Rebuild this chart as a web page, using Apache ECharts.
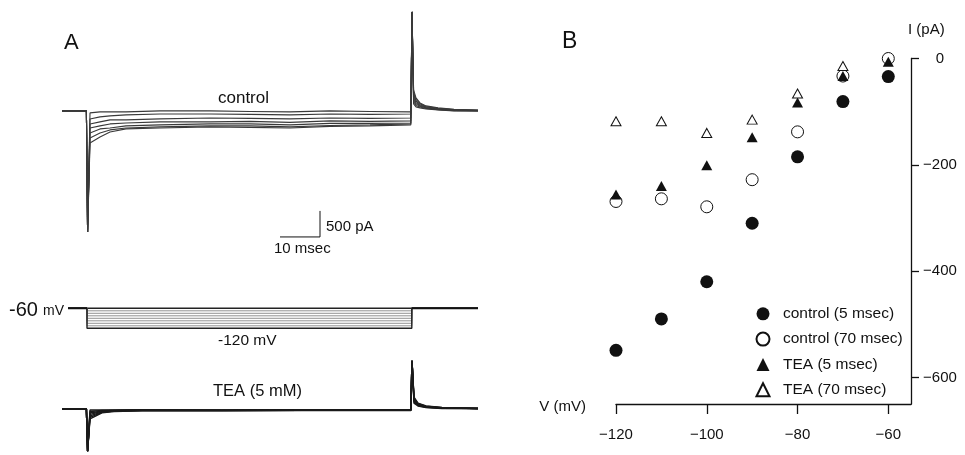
<!DOCTYPE html>
<html>
<head>
<meta charset="utf-8">
<script src="https://cdn.jsdelivr.net/npm/echarts@6/dist/echarts.min.js"></script>
<style>
html, body { margin: 0; padding: 0; background: #fff; }
#chart { width: 965px; height: 455px; }
</style>
</head>
<body>
<div id="chart"></div>
<script>
// ---- panel A: current traces (msec, pA) ----
const traceTime = [0, 6.1, 6.4, 7, 9.5, 12, 16, 24.5, 37, 47, 57, 67, 77, 87.2, 87.5, 87.9, 88.5, 89.5, 91, 94, 98, 104]
const controlTraces = [
  [0, 0, -2325, -38, -19, -19, -19, 0, 0, -10, -19, 0, -10, -19, 1903, 135, 77, 58, 38, 19, 0, 0],
  [0, 0, -2325, -154, -115, -96, -77, -58, -58, -67, -77, -58, -67, -58, 1903, 180, 105, 75, 48, 25, 5, 0],
  [0, 0, -2325, -250, -211, -173, -173, -154, -135, -144, -154, -135, -144, -135, 1903, 225, 135, 90, 58, 30, 10, 5],
  [0, 0, -2325, -327, -288, -250, -231, -211, -211, -202, -221, -192, -202, -192, 1903, 270, 160, 105, 65, 38, 15, 5],
  [0, 0, -2325, -423, -346, -327, -288, -269, -250, -250, -269, -240, -240, -231, 1903, 315, 190, 120, 75, 45, 20, 10],
  [0, 0, -2325, -519, -423, -365, -327, -307, -288, -288, -307, -279, -269, -250, 1903, 360, 220, 138, 85, 50, 25, 10],
  [0, 0, -2325, -615, -500, -404, -346, -327, -307, -317, -327, -298, -288, -269, 1903, 404, 250, 154, 96, 58, 29, 15]
]

const teaTime = [0, 6.1, 6.4, 7, 8.5, 10, 13, 20, 40, 60, 87.2, 87.5, 88, 89, 91, 95, 104]
const teaTraces = [
  [0, 0, -826, -19, -19, -19, -19, -15, -20, -15, -15, 942, 115, 58, 29, 10, 10],
  [0, 0, -826, -48, -38, -29, -23, -19, -23, -19, -19, 942, 135, 68, 34, 14, 10],
  [0, 0, -826, -77, -58, -38, -29, -23, -25, -21, -21, 942, 155, 78, 39, 18, 10],
  [0, 0, -826, -106, -77, -48, -33, -26, -28, -24, -24, 942, 175, 88, 44, 21, 10],
  [0, 0, -826, -135, -96, -58, -38, -29, -30, -26, -26, 942, 195, 96, 48, 24, 10],
  [0, 0, -826, -163, -115, -67, -42, -32, -32, -28, -28, 942, 213, 106, 53, 27, 10],
  [0, 0, -826, -192, -135, -77, -48, -35, -35, -30, -30, 942, 231, 115, 58, 29, 10]
]

// voltage protocol (msec, mV)
const stepTime = [1.5, 6.25, 6.25, 87.45, 87.45, 104]
const holdingV = -60
const stepLevels = [-60, -67.5, -75, -82.5, -90, -97.5, -105, -112.5, -120]

// scale bar: 10 msec, 500 pA
const scaleBarT = [54.5, 64.5]
const scaleBarI = [-2422, -1922]

// ---- panel B: I-V data ----
const stepVoltages = [-120, -110, -100, -90, -80, -70, -60]
const control5 = [-549, -490, -420, -310, -185, -81, -34]
const control70 = [-269, -264, -279, -228, -138, -33, 0]
const tea5 = [-256, -240, -201, -148, -83, -33, -6]
const tea70 = [-118, -118, -140, -115, -66, -14, 2]
const xTicks = [-120, -100, -80, -60]
const yTicks = [0, -200, -400, -600]

const FONT = '"Liberation Sans", Arial, sans-serif'
const minus = v => String(v).replace('-', '\u2212')

const chart = echarts.init(document.getElementById('chart'))

const traceSeries = (times, values, axis, color, width) => ({
  type: 'line',
  xAxisIndex: axis,
  yAxisIndex: axis,
  data: times.map((t, i) => [t, values[i]]),
  symbol: 'none',
  silent: true,
  lineStyle: { color: color, width: width }
})

const series = []
controlTraces.forEach(tr => series.push(traceSeries(traceTime, tr, 0, '#3a3a3a', 1.1)))
series.push({
  type: 'line', xAxisIndex: 0, yAxisIndex: 0, symbol: 'none', silent: true,
  data: [[scaleBarT[0], scaleBarI[0]], [scaleBarT[1], scaleBarI[0]], [scaleBarT[1], scaleBarI[1]]],
  lineStyle: { color: '#111', width: 1 }
})
stepLevels.forEach((lv, k) => {
  const edge = k === 0 || k === stepLevels.length - 1
  series.push({
    type: 'line', xAxisIndex: 1, yAxisIndex: 1, symbol: 'none', silent: true,
    data: stepTime.map((t, i) => [t, (i === 2 || i === 3) ? lv : holdingV]),
    lineStyle: { color: edge ? '#222' : '#777', width: edge ? 1.4 : 0.8 }
  })
})
// redraw holding level on top so it stays dark
series.push({
  type: 'line', xAxisIndex: 1, yAxisIndex: 1, symbol: 'none', silent: true,
  data: [[stepTime[0], holdingV], [stepTime[1], holdingV]],
  lineStyle: { color: '#111', width: 2 }
})
series.push({
  type: 'line', xAxisIndex: 1, yAxisIndex: 1, symbol: 'none', silent: true,
  data: [[stepTime[4], holdingV], [stepTime[5], holdingV]],
  lineStyle: { color: '#111', width: 2 }
})
teaTraces.forEach(tr => series.push(traceSeries(teaTime, tr, 2, '#1a1a1a', 1.4)))

const scatter = (name, values, symbol, size, filled) => ({
  name: name,
  type: 'scatter',
  xAxisIndex: 3,
  yAxisIndex: 3,
  symbol: symbol,
  symbolSize: size,
  data: stepVoltages.map((v, i) => [v, values[i]]),
  itemStyle: filled
    ? { color: '#111', opacity: 1 }
    : { color: '#fff', borderColor: '#111', borderWidth: 1, opacity: 1 }
})
series.push(scatter('control (5 msec)', control5, 'circle', 13, true))
series.push(scatter('control (70 msec)', control70, 'circle', 12, false))
series.push(scatter('TEA (5 msec)', tea5, 'triangle', [11, 10], true))
series.push(scatter('TEA (70 msec)', tea70, 'triangle', [10, 9], false))

const hidden = { show: false, axisLine: { show: false }, splitLine: { show: false } }

const txt = (text, x, y, size, align, vAlign) => ({
  type: 'text', x: x, y: y, silent: true,
  style: {
    text: text, font: size + 'px ' + FONT, fill: '#111',
    align: align || 'left', textAlign: align || 'left',
    verticalAlign: vAlign || 'middle', textVerticalAlign: vAlign || 'middle'
  }
})

const option = {
  animation: false,
  backgroundColor: '#fff',
  grid: [
    { left: 62, top: 11, width: 416, height: 230 },
    { left: 62, top: 298.3, width: 416, height: 35 },
    { left: 62, top: 350.2, width: 416, height: 106.7 },
    { left: 616, top: 58.5, width: 295, height: 345.5 }
  ],
  xAxis: [
    Object.assign({ type: 'value', gridIndex: 0, min: 0, max: 104 }, hidden),
    Object.assign({ type: 'value', gridIndex: 1, min: 0, max: 104 }, hidden),
    Object.assign({ type: 'value', gridIndex: 2, min: 0, max: 104 }, hidden),
    {
      type: 'value', gridIndex: 3, min: -120, max: -55, position: 'bottom',
      splitLine: { show: false },
      axisLine: { onZero: false, lineStyle: { color: '#111', width: 1.3 } },
      axisTick: { customValues: xTicks, length: 10, lineStyle: { color: '#111', width: 1.3 } },
      axisLabel: {
        customValues: xTicks, margin: 23, color: '#111', fontSize: 15, fontFamily: FONT,
        formatter: minus
      }
    }
  ],
  yAxis: [
    Object.assign({ type: 'value', gridIndex: 0, min: -2500, max: 1920 }, hidden),
    Object.assign({ type: 'value', gridIndex: 1, min: -135, max: -30 }, hidden),
    Object.assign({ type: 'value', gridIndex: 2, min: -900, max: 1150 }, hidden),
    {
      type: 'value', gridIndex: 3, min: -650, max: 0, position: 'right',
      splitLine: { show: false },
      axisLine: { onZero: false, lineStyle: { color: '#111', width: 1.3 } },
      axisTick: { customValues: yTicks, length: 8, lineStyle: { color: '#111', width: 1.3 } },
      axisLabel: {
        customValues: yTicks, margin: 29, align: 'center', color: '#111', fontSize: 15, fontFamily: FONT,
        formatter: minus
      }
    }
  ],
  legend: {
    orient: 'vertical',
    left: 750.5,
    top: 300.8,
    itemWidth: 13,
    itemHeight: 13,
    itemGap: 9.3,
    symbolKeepAspect: true,
    selectedMode: false,
    data: ['control (5 msec)', 'control (70 msec)', 'TEA (5 msec)', 'TEA (70 msec)'],
    textStyle: { color: '#111', fontSize: 15.5, fontFamily: FONT, padding: [0, 0, 0, 8.5] }
  },
  graphic: [
    txt('A', 64, 43, 22),
    txt('B', 562, 42, 23),
    txt('control', 243.5, 98, 17, 'center'),
    txt('500 pA', 326, 227, 15),
    txt('10 msec', 274, 249, 15),
    txt('-60', 9, 310, 20),
    txt('mV', 43, 318, 14, 'left', 'bottom'),
    txt('-120 mV', 218, 341, 15.5),
    txt('TEA (5 mM)', 213, 391, 16.5),
    txt('I (pA)', 908, 30, 15),
    txt('V (mV)', 586, 407, 15, 'right')
  ],
  series: series
}

chart.setOption(option)
window.addEventListener('resize', () => chart.resize())
</script>
</body>
</html>
